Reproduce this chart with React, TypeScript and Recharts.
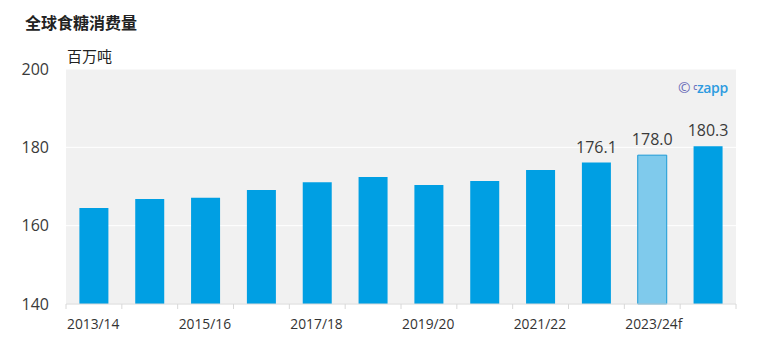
import React from "react";
import { BarChart, Bar, XAxis, YAxis, CartesianGrid, LabelList, Cell } from "recharts";

const seasons = [
  "2013/14", "2014/15", "2015/16", "2016/17", "2017/18", "2018/19",
  "2019/20", "2020/21", "2021/22", "2022/23", "2023/24f", "2024/25f",
];
const consumption = [164.5, 166.8, 167.1, 169.1, 171.1, 172.4, 170.4, 171.4, 174.2, 176.1, 178.0, 180.3];
const labelledSeasons = ["2022/23", "2023/24f", "2024/25f"];
const forecastSeason = "2023/24f";
const yTicks = [140, 160, 180, 200];

const data = seasons.map((s, i) => ({
  name: s,
  value: consumption[i],
  label: labelledSeasons.includes(s) ? consumption[i].toFixed(1) : "",
}));

const W = 765;
const H = 352;
const M = { top: 69, right: 29, left: 0, bottom: 0 };
const Y_W = 66;
const band = (W - M.right - Y_W) / seasons.length;
const FONT = "'Open Sans', 'Noto Sans CJK SC', sans-serif";

const XTick = (props: any) => {
  const { x, y, payload, index } = props;
  const left = x - band / 2;
  return (
    <g>
      <line x1={left} x2={left} y1={y - 8} y2={y - 3} stroke="#d8d8d8" />
      {index === seasons.length - 1 && (
        <line x1={x + band / 2} x2={x + band / 2} y1={y - 8} y2={y - 3} stroke="#d8d8d8" />
      )}
      {index % 2 === 0 && (
        <text x={left + 1} y={y + 17} textAnchor="start" fill="#333" fontSize={13.8} fontFamily={FONT}>
          {payload.value}
        </text>
      )}
    </g>
  );
};

const YTick = (props: any) => {
  const { y, payload } = props;
  return (
    <text x={49} y={y} dy={5.5} textAnchor="end" fill="#3a3a3a" fontSize={16} fontFamily={FONT}>
      {payload.value}
    </text>
  );
};

export default function App() {
  return (
    <div style={{ position: "absolute", left: 0, top: 0, width: W, height: H, background: "#fff", fontFamily: FONT }}>
      <div style={{ position: "absolute", left: 25, top: 11, fontSize: 16, fontWeight: "bold", color: "#222", fontFamily: "'Noto Sans CJK SC', sans-serif", lineHeight: "22px" }}>
        全球食糖消费量
      </div>
      <div style={{ position: "absolute", left: 67, top: 45, fontSize: 15, color: "#222", fontFamily: "'Noto Sans CJK SC', sans-serif", lineHeight: "22px" }}>
        百万吨
      </div>
      <BarChart width={W} height={H} data={data} margin={M} barCategoryGap="24%">
        <CartesianGrid vertical={false} stroke="#ffffff" fill="#f1f1f1" />
        <XAxis
          dataKey="name"
          interval={0}
          height={48}
          axisLine={{ stroke: "#d8d8d8" }}
          tickLine={false}
          tick={<XTick />}
        />
        <YAxis
          width={Y_W}
          domain={[140, 200]}
          ticks={yTicks}
          axisLine={false}
          tickLine={false}
          tick={<YTick />}
        />
        <Bar dataKey="value" isAnimationActive={false}>
          {data.map((d, i) =>
            d.name === forecastSeason ? (
              <Cell key={i} fill="#7fcaec" stroke="#1a9ad6" strokeWidth={1} />
            ) : (
              <Cell key={i} fill="#009fe3" />
            )
          )}
          <LabelList dataKey="label" position="top" offset={10} fill="#3a3a3a" fontSize={16} fontFamily={FONT} />
        </Bar>
      </BarChart>
      <div style={{ position: "absolute", left: 678, top: 77, fontSize: 14, lineHeight: "20px", fontFamily: "'Open Sans', sans-serif", fontWeight: 600, letterSpacing: -0.3 }}>
        <span style={{ color: "#6a6db8", fontWeight: 400, fontSize: 15 }}>©</span>
        <span style={{ color: "#6a6db8", fontSize: 8, verticalAlign: "top", marginLeft: 3 }}>c</span>
        <span style={{ color: "#2e9be0" }}>zapp</span>
      </div>
    </div>
  );
}
